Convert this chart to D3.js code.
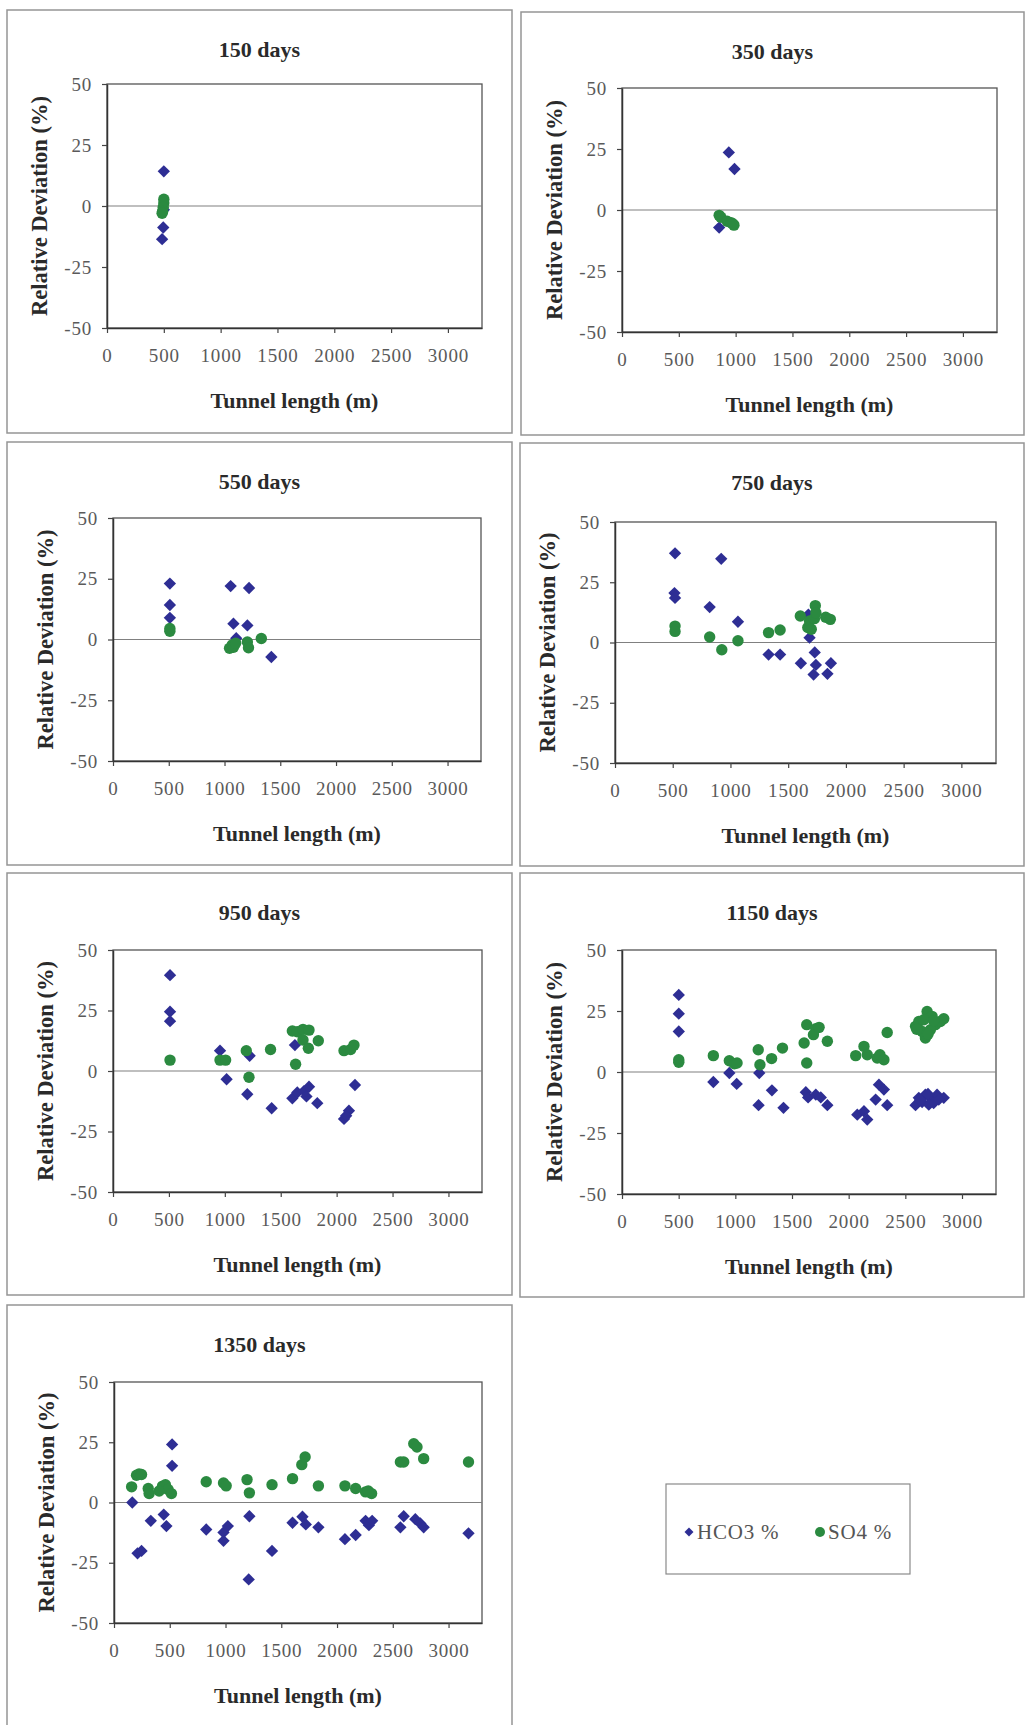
<!DOCTYPE html>
<html>
<head>
<meta charset="utf-8">
<script src="https://cdn.jsdelivr.net/npm/d3@7"></script>
<style>
  html, body { margin: 0; padding: 0; background: #ffffff; }
  svg { display: block; }
</style>
</head>
<body>
<script>
// Relative deviation of HCO3 and SO4 along the tunnel, one panel per survey date.
const panelTitles = ["150 days", "350 days", "550 days", "750 days", "950 days", "1150 days", "1350 days"];
const xTicks = [0, 500, 1000, 1500, 2000, 2500, 3000];
const yTicks = [-50, -25, 0, 25, 50];
const seriesNames = ["HCO3 %", "SO4 %"];

// [tunnel length (m), relative deviation (%)]
const hco3Day150 = [[500,14.2],[500,-1.5],[495,-8.8],[485,-13.6]];
const so4Day150  = [[500,2.8],[500,1.2],[495,-0.5],[490,-2.2],[485,-3]];

const hco3Day350 = [[940,23.6],[990,16.8],[855,-7.2]];
const so4Day350  = [[855,-2.2],[870,-3],[925,-4.6],[960,-5.2],[985,-6.2],[975,-5.6]];

const hco3Day550 = [[510,23],[510,14.2],[510,8.9],[1055,22],[1220,21.2],[1080,6.5],[1205,5.8],[1105,0.5],[1420,-7.2]];
const so4Day550  = [[510,4.5],[510,3.4],[1045,-3.6],[1070,-2.2],[1080,-3.2],[1100,-1.5],[1205,-1],[1215,-3.4],[1330,0.4]];

const hco3Day750 = [[520,37],[515,20.5],[520,18.5],[920,34.7],[820,14.7],[1065,8.6],[1330,-5],[1430,-5],[1610,-8.6],
  [1675,11.6],[1685,2],[1730,-4.1],[1740,-9.3],[1720,-13.3],[1840,-13],[1870,-8.6]];
const so4Day750  = [[520,6.8],[520,4.6],[820,2.3],[925,-3],[1065,0.7],[1330,4.1],[1430,5.2],[1605,11],[1670,6.2],
  [1685,8.9],[1735,15.3],[1727,9.9],[1825,10.5],[1865,9.6],[1700,5.5],[1740,12.3]];

const hco3Day950 = [[510,39.6],[510,24.5],[510,20.6],[957,8.4],[1016,-3.4],[1222,6.3],[1201,-9.6],[1419,-15.4],[1627,10.7],
  [1604,-11.3],[1648,-8.9],[1708,-8.3],[1730,-10.5],[1753,-6.5],[1827,-13.3],[2066,-19.8],[2110,-16.4],[2164,-5.8],[2085,-18.5]];
const so4Day950  = [[510,4.5],[957,4.5],[1007,4.5],[1192,8.4],[1216,-2.6],[1409,8.9],[1604,16.5],[1648,16.2],[1699,17.2],
  [1753,16.9],[1699,12.8],[1747,9.4],[1836,12.5],[1633,2.8],[2066,8.4],[2125,8.9],[2155,10.7]];

const hco3Day1150 = [[501,31.6],[501,23.9],[501,16.6],[806,-4.1],[947,-0.4],[1012,-4.9],[1211,-0.4],[1205,-13.6],[1323,-7.5],
  [1425,-14.7],[1622,-8.3],[1642,-10.4],[1710,-9.3],[1754,-10.4],[1812,-13.6],[2076,-17.5],[2135,-16.1],[2164,-19.5],
  [2238,-11.3],[2267,-5.2],[2311,-7.2],[2340,-13.6],[2590,-13.6],[2619,-10.6],[2677,-9.3],[2721,-10.6],[2750,-12.7],
  [2780,-9.3],[2839,-10.6],[2648,-12.3],[2707,-13.4],[2795,-11.3],[2700,-9],[2630,-11.5]];
const so4Day1150  = [[501,5],[501,4],[806,6.7],[947,4.6],[991,3.4],[1015,3.7],[1202,9.1],[1217,3],[1320,5.5],[1416,9.8],
  [1607,11.9],[1630,3.7],[1630,19.4],[1710,17.7],[1689,15.3],[1739,18.3],[1812,12.6],[2062,6.7],[2135,10.5],[2164,7.1],
  [2252,5.7],[2276,7.1],[2311,5],[2340,16.2],[2590,18.7],[2619,20.7],[2648,16.6],[2677,13.9],[2692,24.8],[2736,22.8],
  [2765,19.4],[2809,20.7],[2839,21.8],[2721,17.3],[2663,21.4],[2600,17.5],[2700,15.5],[2750,21]];

const hco3Day1350 = [[164,0],[211,-21.1],[247,-20.1],[330,-7.6],[446,-5],[470,-9.8],[521,24.1],[521,15.2],[827,-11.2],
  [982,-12.4],[982,-15.9],[1021,-9.8],[1214,-5.7],[1208,-31.9],[1417,-20.1],[1601,-8.4],[1690,-5.9],[1720,-9.1],
  [1833,-10.3],[2071,-15.2],[2167,-13.5],[2256,-7.6],[2286,-9.4],[2315,-7.6],[2568,-10.3],[2598,-5.7],[2702,-6.9],
  [2747,-8.7],[2777,-10.3],[3179,-12.8]];
const so4Day1350  = [[158,6.5],[202,11.3],[225,11.8],[247,11.6],[307,5.8],[315,3.7],[435,6.8],[461,7.4],[485,5.4],
  [515,3.7],[405,4.8],[827,8.6],[982,8.1],[1006,6.9],[1193,9.5],[1214,4],[1417,7.4],[1601,9.9],[1684,15.7],[1714,18.9],
  [1833,6.9],[2071,6.9],[2167,5.8],[2256,4.4],[2310,3.7],[2280,4.8],[2568,16.8],[2598,16.8],[2688,24.4],[2717,23],
  [2777,18.2],[3179,16.8]];

const hco3Series = [hco3Day150, hco3Day350, hco3Day550, hco3Day750, hco3Day950, hco3Day1150, hco3Day1350];
const so4Series  = [so4Day150, so4Day350, so4Day550, so4Day750, so4Day950, so4Day1150, so4Day1350];

// Page layout: outer frame and plot rectangle of each panel.
const layout = [
  { frame: [7, 10, 505, 423],   plot: [107, 84, 375, 244] },
  { frame: [521, 12, 503, 423], plot: [622, 88, 375, 244] },
  { frame: [7, 442, 505, 423],  plot: [113, 518, 368, 243] },
  { frame: [520, 443, 504, 423], plot: [615, 522, 381, 241] },
  { frame: [7, 873, 505, 422],  plot: [113, 950, 369, 242] },
  { frame: [520, 873, 504, 424], plot: [622, 950, 374, 244] },
  { frame: [7, 1305, 505, 440], plot: [114, 1382, 368, 241] }
];

const colors = { hco3: "#2e2e94", so4: "#2b8a40" };
const serif = "'Liberation Serif', 'Times New Roman', serif";
const plainNumber = d => String(d);   // keeps the ASCII hyphen on negative ticks

const svg = d3.select("body").append("svg")
  .attr("width", 1025).attr("height", 1725);

svg.append("rect").attr("width", 1025).attr("height", 1725).attr("fill", "#ffffff");

const diamond = d3.symbol().type(d3.symbolSquare).size(76)();

panelTitles.forEach((title, i) => {
  const L = layout[i];
  const [fx, fy, fw, fh] = L.frame;
  const [px, py, pw, ph] = L.plot;

  svg.append("rect")
    .attr("x", fx).attr("y", fy).attr("width", fw).attr("height", fh)
    .attr("fill", "none").attr("stroke", "#959595").attr("stroke-width", 1.5);

  const x = d3.scaleLinear().domain([0, 3300]).range([px, px + pw]);
  const y = d3.scaleLinear().domain([-50, 50]).range([py + ph, py]);

  const g = svg.append("g");

  // plot area border
  g.append("rect")
    .attr("x", px).attr("y", py).attr("width", pw).attr("height", ph)
    .attr("fill", "#ffffff").attr("stroke", "#555555").attr("stroke-width", 1.3);

  // zero reference line
  g.append("line")
    .attr("x1", px).attr("x2", px + pw)
    .attr("y1", y(0)).attr("y2", y(0))
    .attr("stroke", "#808080").attr("stroke-width", 1.1);

  const xAxis = g.append("g")
    .attr("transform", `translate(0,${py + ph})`)
    .call(d3.axisBottom(x).tickValues(xTicks).tickSizeInner(5).tickSizeOuter(0).tickPadding(16).tickFormat(plainNumber));
  const yAxis = g.append("g")
    .attr("transform", `translate(${px},0)`)
    .call(d3.axisLeft(y).tickValues(yTicks).tickSizeInner(5).tickSizeOuter(0).tickPadding(10).tickFormat(plainNumber));

  [xAxis, yAxis].forEach(ax => {
    ax.select(".domain").attr("stroke", "#333333").attr("stroke-width", 1.5);
    ax.selectAll(".tick line").attr("stroke", "#444444").attr("stroke-width", 1.2);
    ax.selectAll(".tick text")
      .attr("fill", "#5a5a5a")
      .style("font-family", serif)
      .style("font-size", "19px")
      .style("letter-spacing", "0.8px");
  });

  // panel title
  svg.append("text")
    .attr("x", fx + fw / 2).attr("y", fy + 47)
    .attr("text-anchor", "middle")
    .style("font-family", serif).style("font-weight", "bold").style("font-size", "22px")
    .attr("fill", "#2a2a2a")
    .text(title);

  // axis titles
  svg.append("text")
    .attr("x", px + pw / 2).attr("y", py + ph + 80)
    .attr("text-anchor", "middle")
    .style("font-family", serif).style("font-weight", "bold").style("font-size", "22px")
    .attr("fill", "#2a2a2a")
    .text("Tunnel length (m)");

  svg.append("text")
    .attr("transform", `translate(${px - 60},${py + ph / 2}) rotate(-90)`)
    .attr("text-anchor", "middle")
    .style("font-family", serif).style("font-weight", "bold").style("font-size", "22.5px")
    .attr("fill", "#2a2a2a")
    .text("Relative Deviation (%)");

  // HCO3 diamonds, then SO4 circles on top
  g.append("g").selectAll("path")
    .data(hco3Series[i]).join("path")
    .attr("d", diamond)
    .attr("transform", d => `translate(${x(d[0])},${y(d[1])}) rotate(45)`)
    .attr("fill", colors.hco3);

  g.append("g").selectAll("circle")
    .data(so4Series[i]).join("circle")
    .attr("cx", d => x(d[0])).attr("cy", d => y(d[1]))
    .attr("r", 5.7)
    .attr("fill", colors.so4);
});

// legend
const legend = svg.append("g");
legend.append("rect")
  .attr("x", 666).attr("y", 1484).attr("width", 244).attr("height", 90)
  .attr("fill", "#ffffff").attr("stroke", "#8a8a8a").attr("stroke-width", 1.2);

legend.append("path")
  .attr("d", d3.symbol().type(d3.symbolSquare).size(40)())
  .attr("transform", "translate(689,1532) rotate(45)")
  .attr("fill", colors.hco3);
legend.append("text")
  .attr("x", 697).attr("y", 1539)
  .style("font-family", serif).style("font-size", "21px").style("letter-spacing", "0.8px")
  .attr("fill", "#555555")
  .text(seriesNames[0]);

legend.append("circle")
  .attr("cx", 820).attr("cy", 1532).attr("r", 5)
  .attr("fill", colors.so4);
legend.append("text")
  .attr("x", 828).attr("y", 1539)
  .style("font-family", serif).style("font-size", "21px").style("letter-spacing", "0.8px")
  .attr("fill", "#555555")
  .text(seriesNames[1]);
</script>
</body>
</html>
